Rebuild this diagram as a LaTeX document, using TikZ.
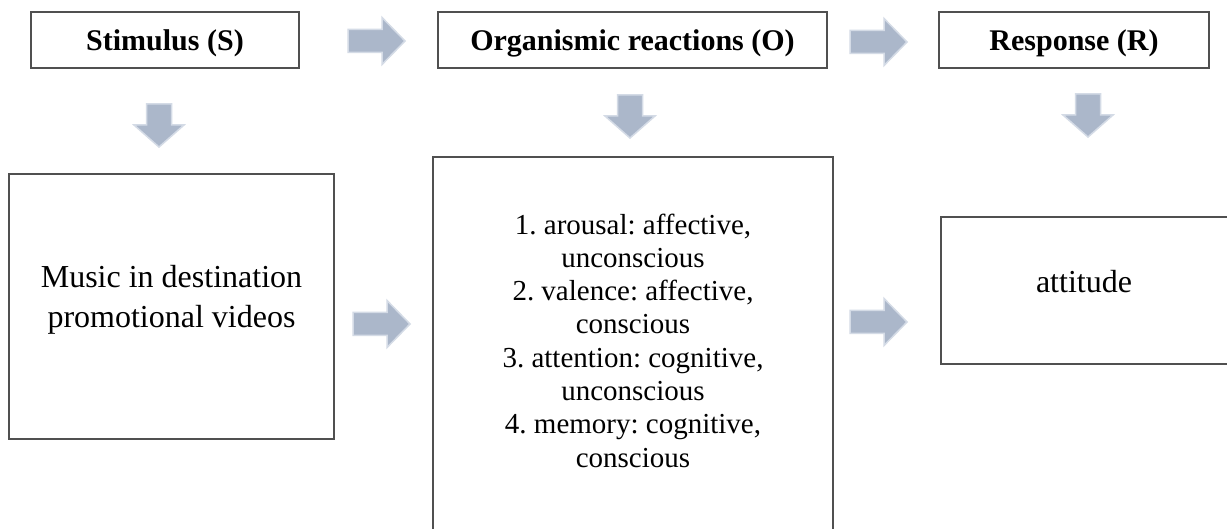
\documentclass[tikz,border=0pt]{standalone}
\usepackage{fontspec}
\setmainfont{Liberation Serif}
\frenchspacing
\definecolor{boxline}{HTML}{505050}
\definecolor{arrowfill}{HTML}{ABB7CA}
\definecolor{arrowedge}{HTML}{D4DBE6}
\begin{document}
\begin{tikzpicture}[x=1pt,y=-1pt,
  box/.style={draw=boxline, line width=1.6pt, inner sep=0pt, outer sep=0pt, anchor=north west},
  headbox/.style={box, font=\fontsize{30}{34}\selectfont\bfseries, text height=20.7pt, text depth=0pt},
  bodytext/.style={align=center, inner sep=0pt},
  blockarrow/.style={fill=arrowfill, draw=arrowedge, line width=1.5pt, line join=miter},
  rarrow/.pic={\path[blockarrow] (0,-11.5) -- (34,-11.5) -- (34,-23.5) -- (57,0) -- (34,23.5) -- (34,11.5) -- (0,11.5) -- cycle;},
  darrow/.pic={\path[blockarrow] (-12.5,0) -- (12.5,0) -- (12.5,21) -- (25,21) -- (0,43) -- (-25,21) -- (-12.5,21) -- cycle;}
]
\useasboundingbox (0,0) rectangle (1227,529);
\clip (0,0) rectangle (1227,529);
\fill[white] (0,0) rectangle (1227,529);

% header row
\node[headbox, minimum width=268pt, minimum height=56pt] (S) at (31,12) {Stimulus (S)};
\node[headbox, minimum width=389pt, minimum height=56pt] (O) at (438,12) {Organismic reactions (O)};
\node[headbox, minimum width=270pt, minimum height=56pt] (R) at (939,12) {Response (R)};

% content boxes
\node[box, minimum width=325pt, minimum height=265pt] (music) at (9,174) {};
\node[bodytext, font=\fontsize{32}{40}\selectfont] (musictext) at (171.5,300)
  {Music in destination\\promotional videos};

\node[box, minimum width=400pt, minimum height=390pt] (org) at (433,157) {};
\node[bodytext, font=\fontsize{29}{33.3}\selectfont] (orgtext) at (633,340.5)
  {1. arousal: affective,\\unconscious\\2. valence: affective,\\conscious\\3. attention: cognitive,\\unconscious\\4. memory: cognitive,\\conscious};

\node[box, minimum width=287pt, minimum height=147pt] (att) at (941,217) {};
\node[bodytext, font=\fontsize{32}{38}\selectfont] (atttext) at (1084,282) {attitude};

% block arrows
\pic (h1) at (348,41) {rarrow};
\pic (h2) at (850,42) {rarrow};
\pic (m1) at (353,324) {rarrow};
\pic (m2) at (850,322) {rarrow};
\pic (d1) at (159,104) {darrow};
\pic (d2) at (630,95) {darrow};
\pic (d3) at (1088,94) {darrow};
\end{tikzpicture}
\end{document}
